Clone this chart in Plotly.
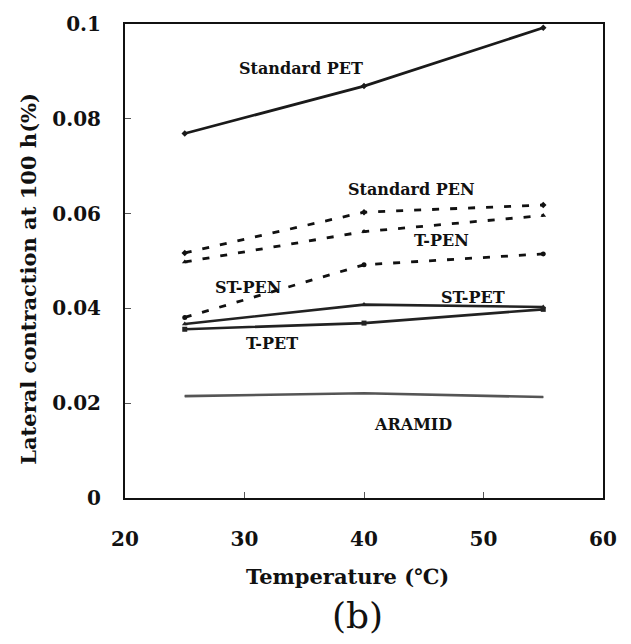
import plotly.graph_objects as go

temperature = [25, 40, 55]
standard_pet = [0.0769, 0.0869, 0.0992]
standard_pen = [0.0517, 0.0603, 0.0618]
t_pen = [0.0498, 0.0562, 0.0596]
st_pen = [0.0381, 0.0492, 0.0515]
st_pet = [0.0367, 0.0408, 0.0403]
t_pet = [0.0356, 0.0369, 0.0398]
aramid = [0.0215, 0.0221, 0.0213]

x_ticks = [20, 30, 40, 50, 60]
y_ticks = [0, 0.02, 0.04, 0.06, 0.08, 0.1]
y_tick_text = ["0", "0.02", "0.04", "0.06", "0.08", "0.1"]

series = [
    ("Standard PET", standard_pet, "solid", "#1a1a1a", "diamond", 2.8),
    ("Standard PEN", standard_pen, "dash", "#111111", "diamond", 2.8),
    ("T-PEN", t_pen, "dash", "#111111", "triangle-up", 2.8),
    ("ST-PEN", st_pen, "dash", "#111111", "circle", 2.8),
    ("ST-PET", st_pet, "solid", "#222222", "triangle-up", 2.6),
    ("T-PET", t_pet, "solid", "#222222", "square", 2.6),
    ("ARAMID", aramid, "solid", "#555555", "circle", 2.6),
]

fig = go.Figure()
for name, vals, dash, color, sym, w in series:
    fig.add_trace(go.Scatter(
        x=temperature, y=vals, name=name, mode="lines+markers",
        line=dict(color=color, width=w, dash="7px,11px" if dash == "dash" else "solid"),
        marker=dict(symbol=sym, size=5 if name != "ARAMID" else 1, color=color),
        showlegend=False,
    ))

FONT = "DejaVu Serif"
label_font = dict(family=FONT, size=16, color="#111111")
labels = [
    ("<b>Standard PET</b>", 34.7, 0.0906),
    ("<b>Standard PEN</b>", 44.0, 0.0651),
    ("<b>T-PEN</b>", 46.5, 0.0544),
    ("<b>ST-PEN</b>", 30.3, 0.0444),
    ("<b>ST-PET</b>", 49.1, 0.0423),
    ("<b>T-PET</b>", 32.3, 0.0325),
    ("<b>ARAMID</b>", 44.1, 0.0156),
]
for text, x, y in labels:
    fig.add_annotation(x=x, y=y, text=text, showarrow=False, font=label_font,
                       xref="x", yref="y", xanchor="center", yanchor="middle")

axis_font = dict(family=FONT, size=21, color="#111111")

fig.add_annotation(xref="paper", yref="paper", x=(347 - 125) / 478, y=(498 - 577) / 480,
                   text="<b>Temperature (℃)</b>", showarrow=False, font=axis_font,
                   xanchor="center", yanchor="middle")
fig.add_annotation(xref="paper", yref="paper", x=(357 - 125) / 478, y=(498 - 617) / 480,
                   text="(b)", showarrow=False,
                   font=dict(family=FONT, size=36, color="#111111"),
                   xanchor="center", yanchor="middle")
fig.add_annotation(xref="paper", yref="paper", x=(29 - 125) / 478, y=(498 - 276) / 480,
                   text="<b>Lateral contraction at 100 h(%)</b>", showarrow=False,
                   textangle=-90, font=axis_font, xanchor="center", yanchor="middle")

tick_font = dict(family=FONT, size=20, color="#111")
fig.update_xaxes(range=[20, 60], tickvals=x_ticks, ticktext=["<b>%d</b>" % v for v in x_ticks],
                 ticks="inside", ticklen=6,
                 tickcolor="#555", showline=True, linecolor="#111", linewidth=2,
                 mirror=True, showgrid=False, zeroline=False,
                 tickfont=tick_font, ticklabelstandoff=22)
fig.update_yaxes(range=[0, 0.1], tickvals=y_ticks, ticktext=["<b>%s</b>" % t for t in y_tick_text],
                 ticks="inside", ticklen=6,
                 tickcolor="#555", showline=True, linecolor="#111", linewidth=2,
                 mirror=True, showgrid=False, zeroline=False,
                 tickfont=tick_font, ticklabelstandoff=18)

fig.update_layout(width=631, height=644, margin=dict(l=125, r=28, t=18, b=146),
                  plot_bgcolor="white", paper_bgcolor="white")

fig.write_html("out.html")
